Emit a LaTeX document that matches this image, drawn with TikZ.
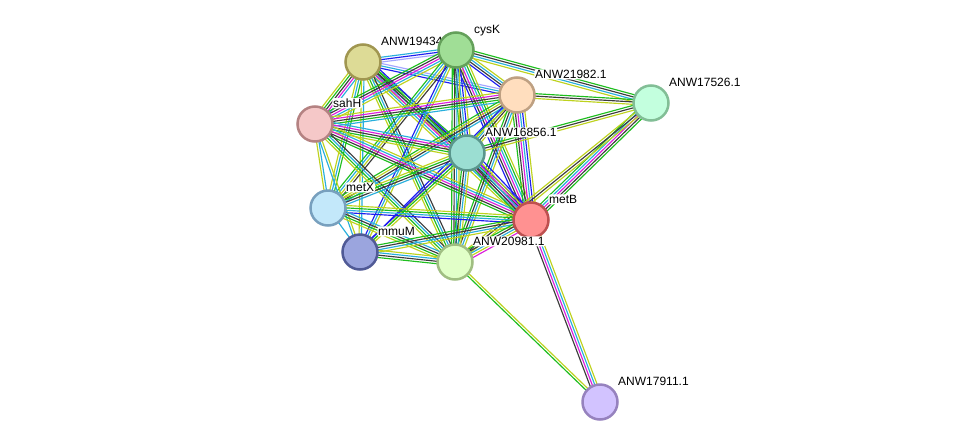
\documentclass[tikz,border=0pt]{standalone}
\usepackage{fontspec}
\newfontfamily\lblfont{Liberation Sans}
\usetikzlibrary{calc,backgrounds}
\definecolor{eg}{RGB}{30,190,30}
\definecolor{ek}{RGB}{60,60,60}
\definecolor{eb}{RGB}{30,30,240}
\definecolor{em}{RGB}{220,30,220}
\definecolor{ec}{RGB}{40,175,220}
\definecolor{ey}{RGB}{190,210,30}
\definecolor{el}{RGB}{165,165,255}
\definecolor{aF}{RGB}{221,219,150}\definecolor{aB}{RGB}{160,150,80}
\definecolor{cF}{RGB}{160,222,150}\definecolor{cB}{RGB}{100,160,90}
\definecolor{dF}{RGB}{255,222,190}\definecolor{dB}{RGB}{190,160,130}
\definecolor{eF}{RGB}{195,255,222}\definecolor{eB}{RGB}{130,190,150}
\definecolor{sF}{RGB}{245,200,200}\definecolor{sB}{RGB}{180,130,130}
\definecolor{fF}{RGB}{155,222,210}\definecolor{fB}{RGB}{90,150,140}
\definecolor{xF}{RGB}{195,232,250}\definecolor{xB}{RGB}{120,160,190}
\definecolor{bF}{RGB}{255,145,145}\definecolor{bB}{RGB}{190,80,80}
\definecolor{mF}{RGB}{155,165,222}\definecolor{mB}{RGB}{80,90,150}
\definecolor{gF}{RGB}{225,255,200}\definecolor{gB}{RGB}{160,190,130}
\definecolor{hF}{RGB}{210,195,255}\definecolor{hB}{RGB}{150,130,190}
\tikzset{
  prot/.style={circle, minimum size=35pt, inner sep=0pt, line width=2.5pt},
  lbl/.style={font=\lblfont\fontsize{12}{14}\selectfont, inner sep=0.8pt, anchor=base west,
    fill=white, rounded corners=2pt},
  evline/.style={line width=1.15pt},
}
\newcommand\espace{2.4}
\newcommand\sedge[3]{%
  \foreach \col [count=\ei] in {#3} {\xdef\ecount{\ei}}%
  \foreach \col [count=\ei] in {#3} {%
    \pgfmathsetmacro\eoff{(\ei-(\ecount+1)/2)*\espace}%
    \draw[evline,\col] ($(#1)!\eoff pt!90:(#2)$) -- ($(#2)!\eoff pt!-90:(#1)$);
  }%
}
\newcommand\plabel[2]{%
  \node[lbl] (#1l) at ($(#1)+(17.2,-16.5)$) {#2};%
}
\begin{document}
\begin{tikzpicture}[x=1pt,y=-1pt]
\useasboundingbox (0,0) rectangle (976,447);
\node[prot, draw=aB, fill=aF] (A) at (363,62) {};
\plabel{A}{ANW19434.1}
\node[prot, draw=cB, fill=cF] (C) at (456,50) {};
\plabel{C}{cysK}
\node[prot, draw=dB, fill=dF] (D) at (517,95) {};
\plabel{D}{ANW21982.1}
\node[prot, draw=eB, fill=eF] (E) at (651,103) {};
\plabel{E}{ANW17526.1}
\node[prot, draw=sB, fill=sF] (S) at (315,124) {};
\plabel{S}{sahH}
\node[prot, draw=fB, fill=fF] (F) at (467,153) {};
\plabel{F}{ANW16856.1}
\node[prot, draw=xB, fill=xF] (X) at (328,208) {};
\plabel{X}{metX}
\node[prot, draw=bB, fill=bF] (B) at (531,220) {};
\plabel{B}{metB}
\node[prot, draw=mB, fill=mF] (M) at (360,252) {};
\plabel{M}{mmuM}
\node[prot, draw=gB, fill=gF] (G) at (455,262) {};
\plabel{G}{ANW20981.1}
\node[prot, draw=hB, fill=hF] (H) at (600,402) {};
\plabel{H}{ANW17911.1}
\begin{scope}[on background layer]
\fill[white] (0,0) rectangle (976,447);
\sedge{A}{C}{el,eb,ec}
\sedge{A}{D}{eb,ec,el}
\sedge{A}{S}{ey,eg,ek,em,ec}
\sedge{A}{F}{ey,ec,ek,eg}
\sedge{A}{B}{ey,ec,em,ek,eg,eb}
\sedge{A}{X}{ey,ec,eg}
\sedge{A}{M}{ey,ec}
\sedge{A}{G}{ey,eg,ec,ek}
\sedge{C}{D}{eb,ek,ec,ey}
\sedge{C}{E}{ey,ec,ek,eg}
\sedge{C}{S}{eg,ek,em,ec,ey}
\sedge{C}{F}{eg,ek,ec,eb,ey}
\sedge{C}{X}{eg,ec,ey,ek}
\sedge{C}{B}{eb,ek,em,ec,eg,ey}
\sedge{C}{M}{eb,ec,ey}
\sedge{C}{G}{eg,ek,ec,ey}
\sedge{D}{E}{ey,ek,eg}
\sedge{D}{S}{ey,em,ek,eg,ec}
\sedge{D}{F}{eg,ec,ek,ey}
\sedge{D}{X}{eg,ey,ek,ec}
\sedge{D}{B}{eg,ek,em,ec,eb,ey}
\sedge{D}{M}{eb,ey}
\sedge{D}{G}{eg,ek,ec,ey}
\sedge{E}{F}{eg,ek,ey}
\sedge{E}{B}{eg,ec,em,ek,eg}
\sedge{E}{G}{ey,ek,ey}
\sedge{S}{F}{ey,eg,ek,em,ec}
\sedge{S}{X}{ey,ec}
\sedge{S}{B}{eg,ek,em,ec,ey}
\sedge{S}{M}{ec,ey}
\sedge{S}{G}{ey,eg,ec,ek}
\sedge{F}{X}{ey,eg,ek,ec}
\sedge{F}{B}{eg,ek,ec,em,ey,eb}
\sedge{F}{M}{eb,eg,ey}
\sedge{F}{G}{eg,ek,ec,ey}
\sedge{X}{B}{eb,ec,eg,ey}
\sedge{X}{M}{ec}
\sedge{X}{G}{ey,eg,ek,ec}
\sedge{B}{M}{eg,ek,ec,ey}
\sedge{B}{G}{eg,ek,ec,ey,em}
\sedge{B}{H}{ek,em,ec,ey}
\sedge{M}{G}{eg,ek,ec,ey}
\sedge{G}{H}{eg,ey}
\end{scope}
\end{tikzpicture}
\end{document}
